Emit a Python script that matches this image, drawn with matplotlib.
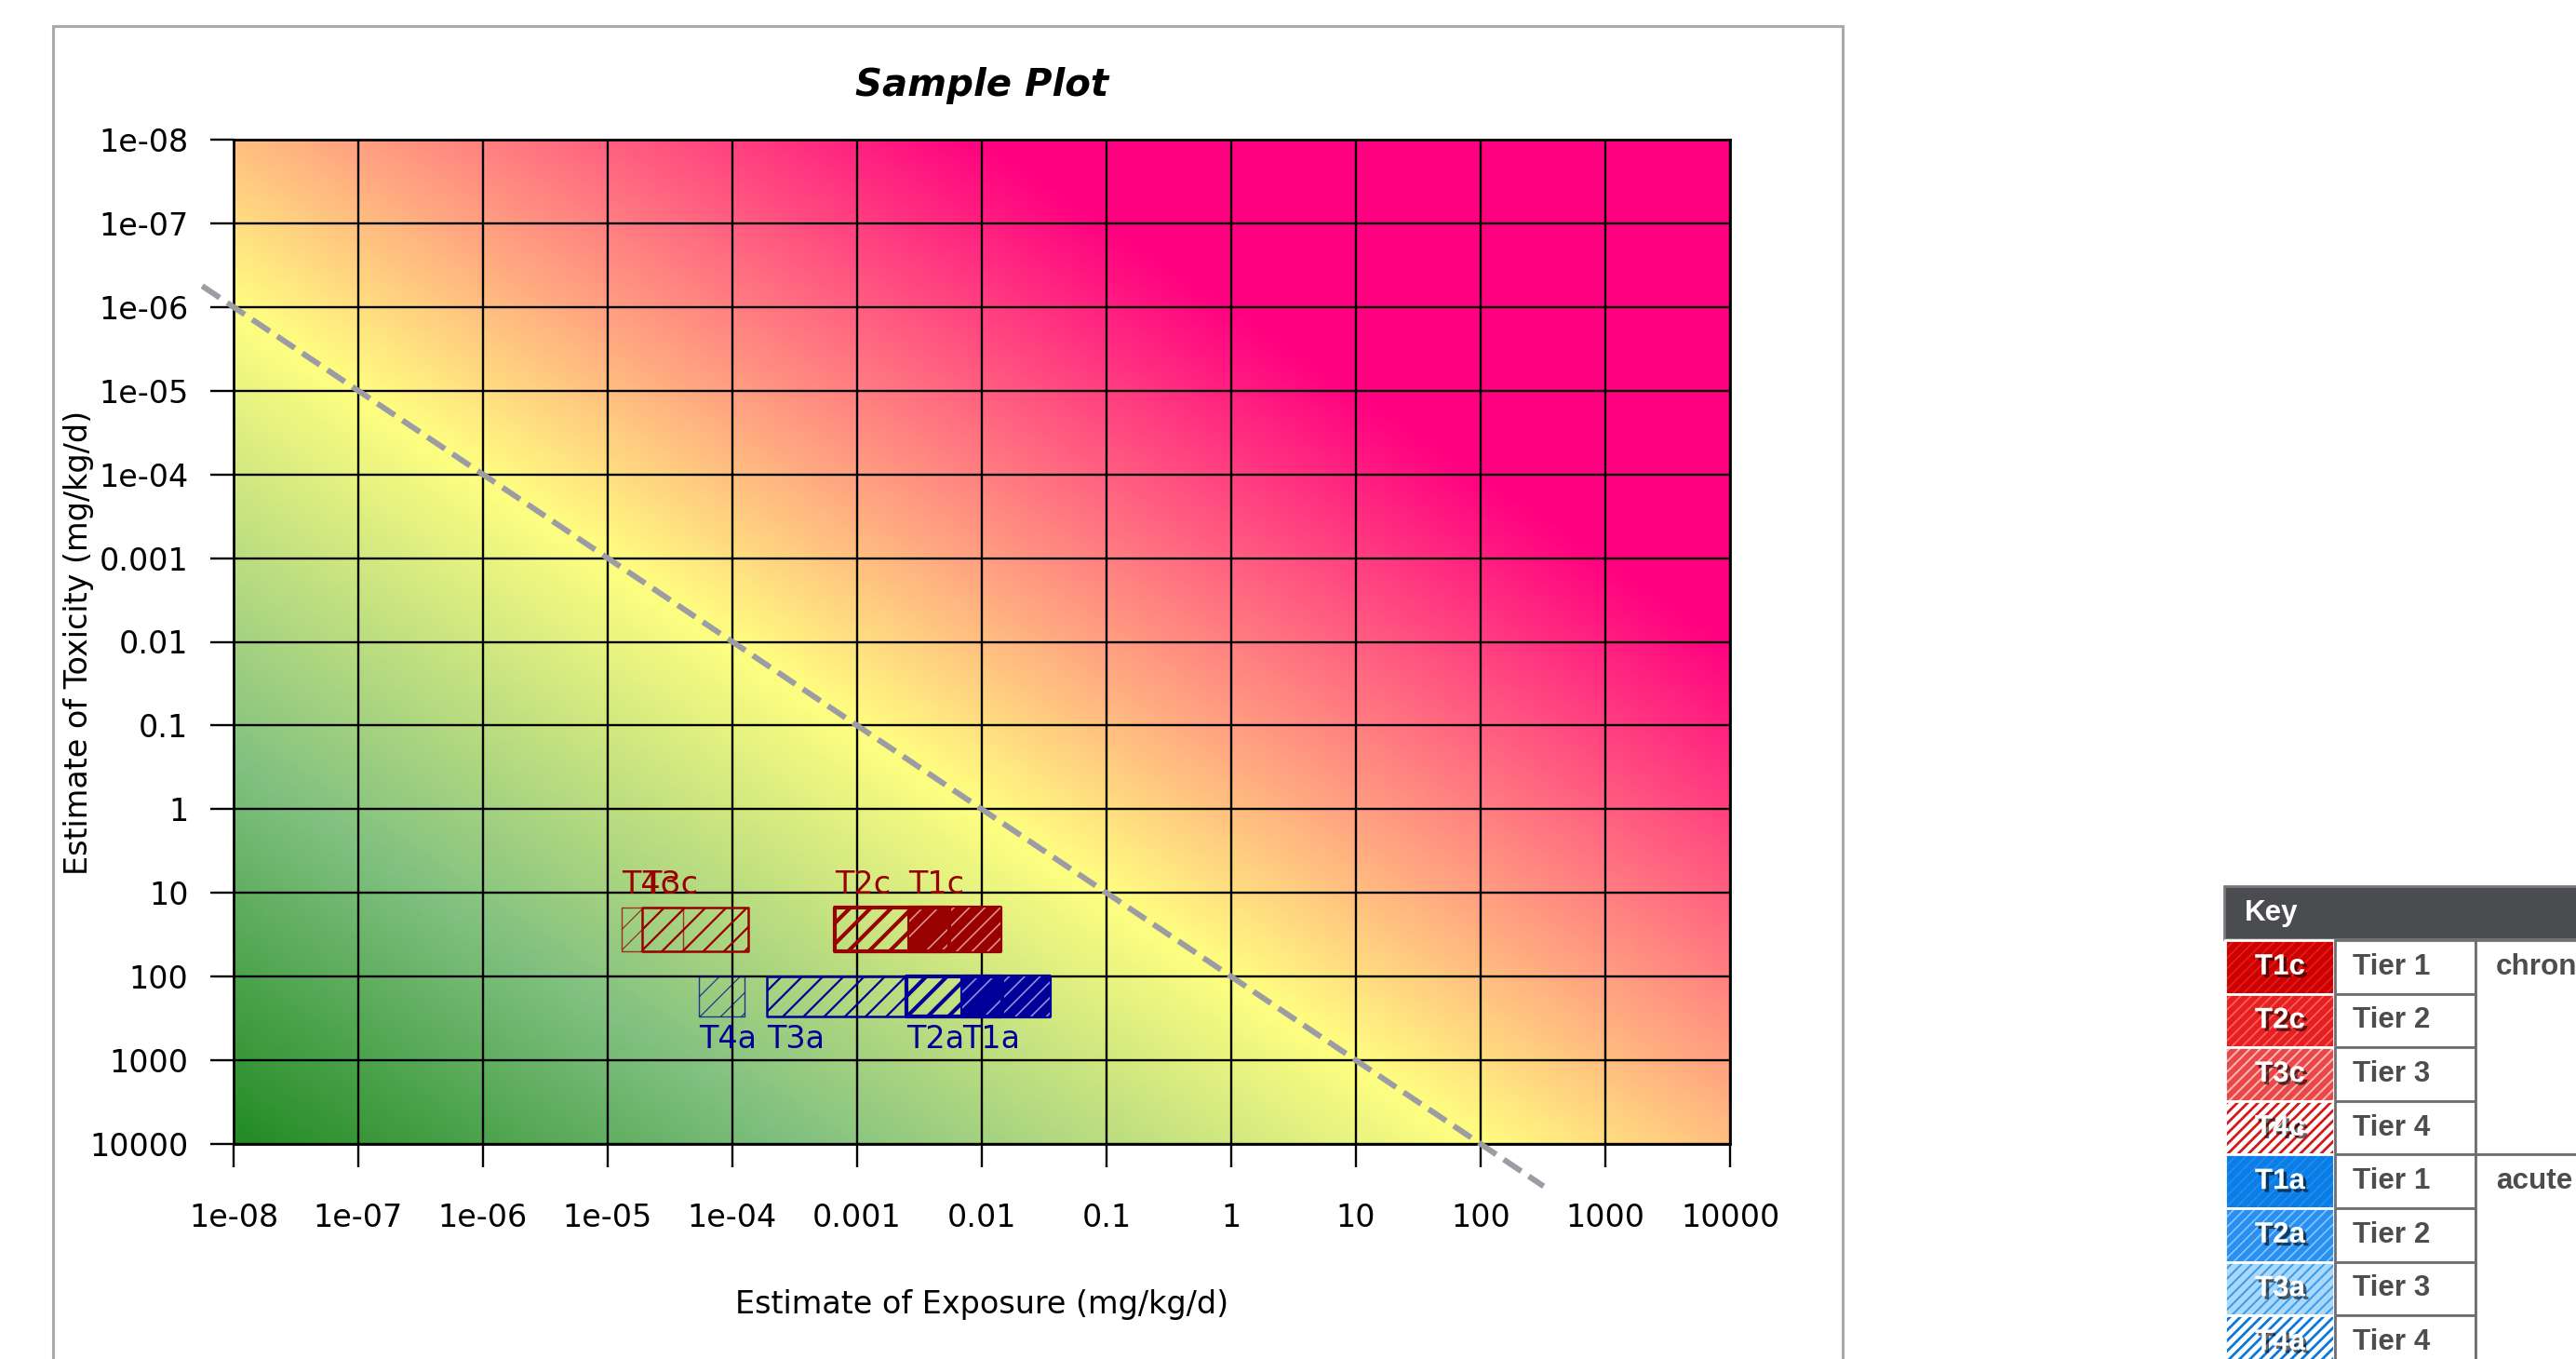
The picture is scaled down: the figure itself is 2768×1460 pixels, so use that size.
import numpy as np
import matplotlib
matplotlib.use("Agg")
import matplotlib.pyplot as plt
import matplotlib.patheffects as pe
from matplotlib.patches import Rectangle
from matplotlib.colors import LinearSegmentedColormap

W, H, DPI = 2768, 1460, 200

# axis ticks (both axes span 1e-08 .. 1e4)
decades = np.arange(-8, 5)
tick_labels = ["1e-08", "1e-07", "1e-06", "1e-05", "1e-04", "0.001", "0.01",
               "0.1", "1", "10", "100", "1000", "10000"]

# exposure ranges per tier (mg/kg/d)
tiers = ["T1", "T2", "T3", "T4"]
chronic_lo = [2.6e-3, 6.6e-4, 1.9e-5, 1.3e-5]
chronic_hi = [1.4e-2, 5.5e-3, 1.35e-4, 4.0e-5]
acute_lo = [7.0e-3, 2.5e-3, 1.9e-4, 5.4e-5]
acute_hi = [3.5e-2, 1.45e-2, 2.5e-3, 1.26e-4]
# toxicity ranges (mg/kg/d)
chronic_tox = [15, 50]
acute_tox = [100, 300]

# reference line exposure/toxicity = 0.01
risk_ratio = 0.01
risk_x = np.array([5.6e-9, 3.2e2])

# key table
key_codes = ["T1c", "T2c", "T3c", "T4c", "T1a", "T2a", "T3a", "T4a"]
key_tiers = ["Tier 1", "Tier 2", "Tier 3", "Tier 4"] * 2
key_groups = ["chronic", "acute"]
key_base = ["#d00000", "#e42020", "#e84848", "#ffffff",
            "#0a7de6", "#2a8ff0", "#a8d8fb", "#ffffff"]
key_stripe = ["#dc2a2a", "#ff6060", "#ffb8b8", "#d41818",
              "#2a90f0", "#80c8ff", "#3a9ae8", "#0a78dc"]
key_hlw = [0.5, 0.6, 0.7, 1.0, 0.5, 0.6, 0.7, 1.0]


class HRect(Rectangle):
    """Rectangle whose hatch line width is applied at draw time."""

    def __init__(self, *args, hlw=1.0, **kw):
        super().__init__(*args, **kw)
        self.hlw = hlw
        if hasattr(self, "set_hatch_linewidth"):
            self.set_hatch_linewidth(hlw)

    def draw(self, renderer):
        with plt.rc_context({"hatch.linewidth": self.hlw}):
            super().draw(renderer)


def px(x0, y0, x1, y1):
    return [x0 / W, 1 - y1 / H, (x1 - x0) / W, (y1 - y0) / H]


fig = plt.figure(figsize=(W / DPI, H / DPI), dpi=DPI)

# outer grey frame (runs past the bottom edge)
fig.add_artist(Rectangle((57 / W, -0.1), (1980 - 57) / W, 1.1 - 28 / H,
                         transform=fig.transFigure, fill=False,
                         ec="#aaaaaa", lw=1.1))

ax = fig.add_axes(px(251, 150, 1859, 1229))
ax.set_xscale("log")
ax.set_yscale("log")

# background: colour by log(exposure) - log(toxicity)
cmap = LinearSegmentedColormap.from_list(
    "risk", [(0, "#228b22"), (4.5 / 24, "#80c080"), (10 / 24, "#ffff80"),
             (18 / 24, "#ff0080"), (1, "#ff0080")])
g = np.linspace(-8, 4, 49)
GX, GY = np.meshgrid(g, g)
ax.pcolormesh(10 ** GX, 10 ** GY, GX - GY, cmap=cmap, vmin=-12, vmax=12,
              shading="gouraud", zorder=0)

ax.set_xlim(1e-8, 1e4)
ax.set_ylim(1e4, 1e-8)
ax.set_xticks(10.0 ** decades)
ax.set_xticklabels(tick_labels)
ax.set_yticks(10.0 ** decades)
ax.set_yticklabels(tick_labels)
ax.minorticks_off()
ax.grid(True, color="k", lw=0.85)
ax.tick_params(length=9, width=0.85, labelsize=12)
ax.tick_params(axis="x", pad=13.5)
ax.tick_params(axis="y", pad=8.5)
for s in ax.spines.values():
    s.set_linewidth(1.0)

styles = {
    "T2": dict(hatch="///", hlw=1.5, lw=1.5, alpha=1.0),
    "T3": dict(hatch="///", hlw=0.8, lw=0.9, alpha=1.0),
    "T4": dict(hatch="///", hlw=0.45, lw=0.5, alpha=0.75),
}


def draw_bars(lo, hi, tox, dark, light, suffix, above):
    for t, x0, x1 in zip(tiers, lo, hi):
        xy, w, h = (x0, tox[0]), x1 - x0, tox[1] - tox[0]
        if t == "T1":
            ax.add_patch(Rectangle(xy, w, h, fc=dark, ec=dark, lw=1.5,
                                   joinstyle="round", zorder=2))
            ax.add_patch(HRect(xy, w, h, fill=False, hatch="////", ec=light,
                               lw=0, hlw=0.6, zorder=2))
        else:
            st = styles[t]
            ax.add_patch(HRect(xy, w, h, fill=False, hatch=st["hatch"],
                               ec=dark, lw=st["lw"], alpha=st["alpha"],
                               joinstyle="round", hlw=st["hlw"], zorder=2))
        if above:
            ax.annotate(t + suffix, (x0, tox[0]), xytext=(0, 3),
                        textcoords="offset points", ha="left", va="bottom",
                        color=dark, fontsize=12, zorder=4)
        else:
            ax.annotate(t + suffix, (x0, tox[1]), xytext=(0, -3),
                        textcoords="offset points", ha="left", va="top",
                        color=dark, fontsize=12, zorder=4)


draw_bars(chronic_lo, chronic_hi, chronic_tox, "#990000", "#e09090", "c", True)
draw_bars(acute_lo, acute_hi, acute_tox, "#000099", "#9090e0", "a", False)

ax.plot(risk_x, risk_x / risk_ratio, "--", color="#9c9ca4", lw=2.2,
        clip_on=False, zorder=3)

fig.text(1055 / W, 1 - 92 / H, "Sample Plot", ha="center", va="center",
         fontsize=14.5, fontweight="bold", fontstyle="italic")
fig.text(1055 / W, 1 - 1402 / H, "Estimate of Exposure (mg/kg/d)",
         ha="center", va="center", fontsize=12)
fig.text(85 / W, 1 - 690 / H, "Estimate of Toxicity (mg/kg/d)",
         ha="center", va="center", rotation=90, fontsize=12)

# key table, drawn in pixel units
kax = fig.add_axes(px(2380, 940, 2768, 1460))
kax.set_xlim(2380, 2768)
kax.set_ylim(1460, 940)
kax.axis("off")
kfont = dict(family="Liberation Sans", fontweight="bold", fontsize=11.3)
grey = "#6e6e72"
row_h = 57.6
top0 = 1010

kax.add_patch(Rectangle((2390, 952), 500, 57, fc="#4b4c50", ec="#7a7a7e", lw=1))
kax.text(2412, 981, "Key", color="white", va="center", **kfont)

for i, code in enumerate(key_codes):
    top = top0 + i * row_h
    kax.add_patch(Rectangle((2391, top), 117, row_h, fc=key_base[i],
                            ec="none", lw=0))
    kax.add_patch(HRect((2391, top), 117, row_h, fill=False, hatch="//////",
                        ec=key_stripe[i], lw=0, hlw=key_hlw[i]))
    kax.add_patch(Rectangle((2391, top), 117, row_h, fill=False,
                            ec="white", lw=1.0))
    kax.text(2450, top + row_h / 2, code, color="white", ha="center",
             va="center",
             path_effects=[pe.withSimplePatchShadow(offset=(1.2, -1.2),
                                                    shadow_rgbFace="k",
                                                    alpha=0.6)],
             **kfont)
    kax.add_patch(Rectangle((2509, top), 151, row_h, fc="white", ec=grey,
                            lw=1.0))
    kax.text(2528, top + row_h / 2, key_tiers[i], color="#4d4d50",
             va="center", **kfont)

for j, name in enumerate(key_groups):
    top = top0 + j * 4 * row_h
    kax.add_patch(Rectangle((2660, top), 200, 4 * row_h, fc="white", ec=grey,
                            lw=1.0))
    kax.text(2682, top + row_h / 2, name, color="#4d4d50", va="center",
             **kfont)

fig.savefig("out.png", dpi=DPI)
